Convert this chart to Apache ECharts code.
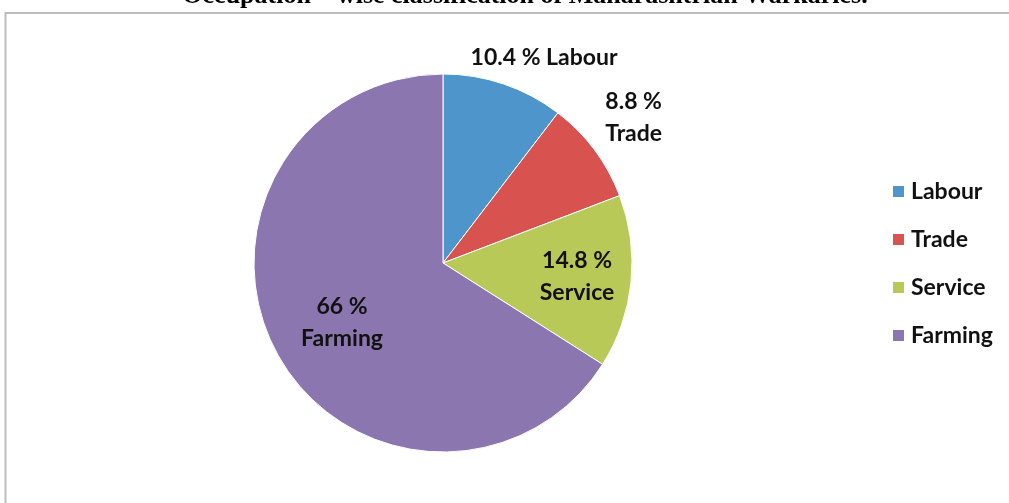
<!DOCTYPE html>
<html>
<head>
<meta charset="utf-8">
<script src="https://cdn.jsdelivr.net/npm/echarts@6/dist/echarts.min.js"></script>
<style>
html,body{margin:0;padding:0;background:#fff;}
#chart{width:1009px;height:503px;}
</style>
</head>
<body>
<div id="chart"></div>
<script>
const titleText = 'Occupation – wise classification of Maharashtrian Warkaries.';
const categories = ['Labour', 'Trade', 'Service', 'Farming'];
const values = [10.4, 8.8, 14.8, 66];
const colors = ['#4E95CC', '#D8534F', '#B9C958', '#8B76B0'];
const labelTexts = ['10.4 % Labour', '8.8 %\nTrade', '14.8 %\nService', '66 %\nFarming'];
// label placement: distance from centre (fraction of radius) and angular tweak (degrees)
const labelRadius = [1.21, 1.27, 0.713, 0.62];
const labelAngleShift = [7.5, -0.7, 0, -1.7];

const cx = 443, cy = 263, R = 189;
const labelFont = 'Lato, "Open Sans", sans-serif';

const chart = echarts.init(document.getElementById('chart'));
chart.setOption({
  animation: false,
  backgroundColor: '#fff',
  color: colors,
  graphic: [
    {
      type: 'rect', silent: true,
      shape: { x: 5.5, y: 13, width: 1010, height: 500 },
      style: { fill: 'none', stroke: '#bdbdbd', lineWidth: 2 }
    },
    {
      type: 'text', silent: true,
      x: 525, y: 9,
      style: {
        text: titleText, fill: '#000',
        font: 'bold 26px "Liberation Serif", "DejaVu Serif", serif',
        textAlign: 'center', textVerticalAlign: 'bottom'
      }
    }
  ],
  legend: {
    orient: 'vertical',
    left: 886,
    top: 175,
    itemWidth: 13,
    itemHeight: 13,
    itemGap: 25,
    icon: 'rect',
    data: categories,
    textStyle: { fontFamily: labelFont, fontWeight: 'bold', fontSize: 23, color: '#111', padding: [0, 0, 0, 1] }
  },
  series: [{
    type: 'pie',
    center: [cx, cy],
    radius: [0, R],
    startAngle: 90,
    clockwise: true,
    data: categories.map((c, i) => ({ name: c, value: values[i] })),
    itemStyle: { borderColor: '#ffffff', borderWidth: 1 },
    label: {
      show: true,
      position: 'inside',
      formatter: p => labelTexts[p.dataIndex],
      fontFamily: labelFont,
      fontWeight: 'bold',
      fontSize: 23,
      lineHeight: 32,
      color: '#111',
      align: 'center'
    },
    labelLine: { show: false },
    labelLayout: function (params) {
      const r = params.labelRect;
      const lx = r.x + r.width / 2, ly = r.y + r.height / 2;
      const i = params.dataIndex;
      const ang = Math.atan2(lx - cx, -(ly - cy)) + labelAngleShift[i] * Math.PI / 180;
      const d = labelRadius[i] * R;
      return { x: cx + d * Math.sin(ang), y: cy - d * Math.cos(ang) };
    },
    emphasis: { disabled: true }
  }]
});
</script>
</body>
</html>
